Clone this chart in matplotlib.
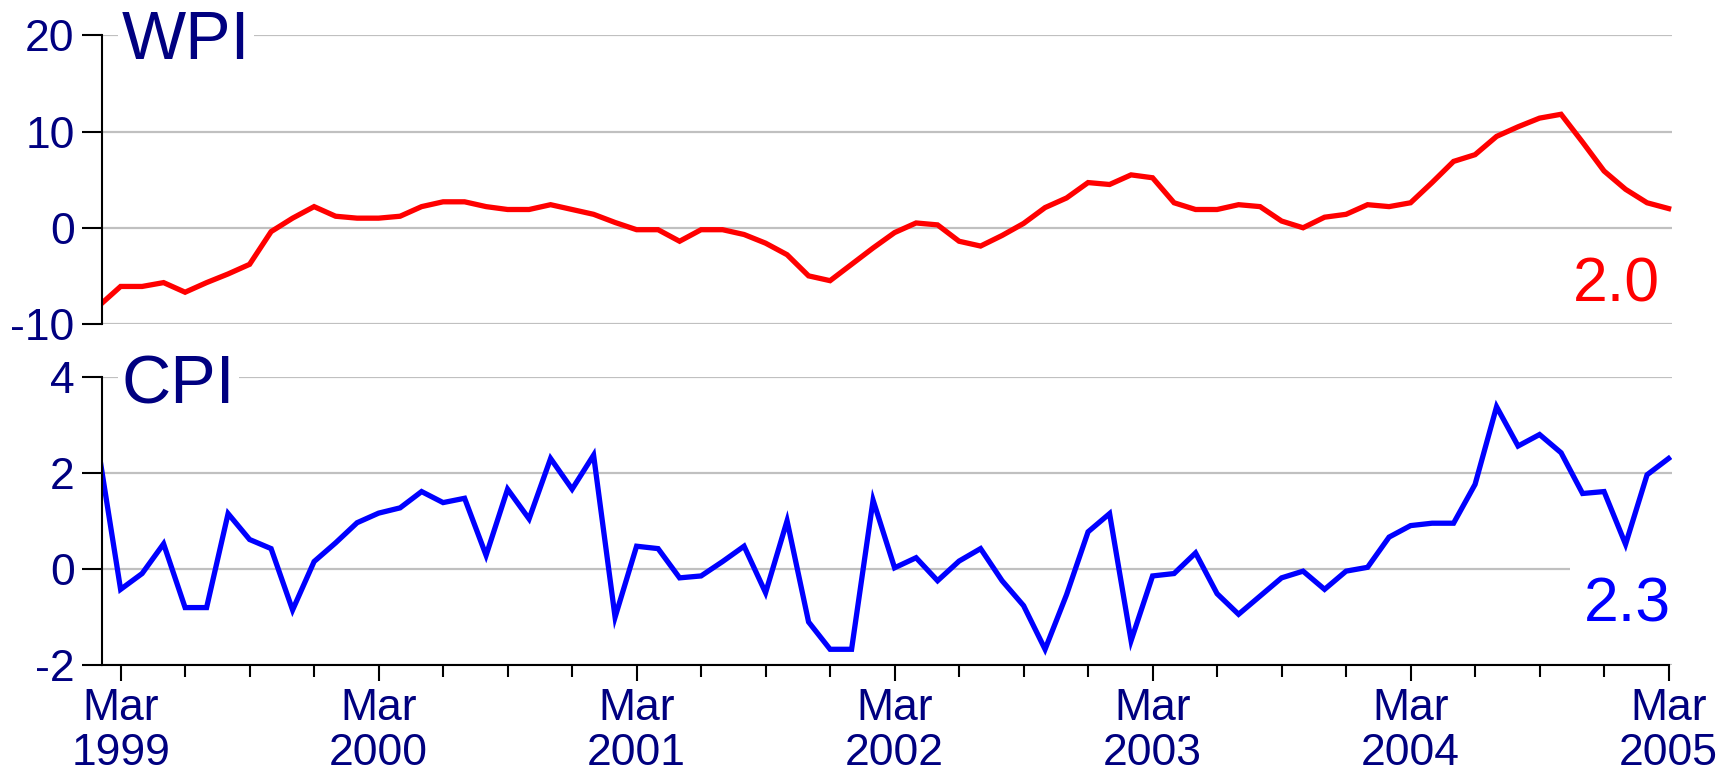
import matplotlib
matplotlib.use('Agg')
import matplotlib.pyplot as plt
import numpy as np
import pandas as pd

plt.rcParams['font.family'] = ['Liberation Sans', 'DejaVu Sans']
plt.rcParams['axes.unicode_minus'] = False

# monthly observations, Feb 1999 .. Mar 2005
months = pd.period_range('1999-02', '2005-03', freq='M')

wpi = [-8.1, -6.1, -6.1, -5.7, -6.7, -5.7, -4.8, -3.8, -0.4, 1.0, 2.2,
       1.2, 1.0, 1.0, 1.2, 2.2, 2.7, 2.7, 2.2, 1.9, 1.9, 2.4, 1.9,
       1.4, 0.55, -0.2, -0.2, -1.4, -0.2, -0.2, -0.7, -1.6, -2.8, -5.0, -5.5,
       -3.8, -2.1, -0.5, 0.5, 0.3, -1.4, -1.9, -0.8, 0.45, 2.1, 3.1, 4.7,
       4.5, 5.5, 5.2, 2.6, 1.9, 1.9, 2.4, 2.2, 0.7, 0.0, 1.1, 1.4,
       2.4, 2.2, 2.6, 4.7, 6.9, 7.6, 9.5, 10.5, 11.4, 11.8, 8.9, 5.9,
       4.0, 2.6, 2.0]

cpi = [2.4, -0.43, -0.1, 0.52, -0.81, -0.81, 1.15, 0.61, 0.42, -0.86, 0.15,
       0.54, 0.96, 1.16, 1.27, 1.61, 1.38, 1.47, 0.28, 1.66, 1.04, 2.30, 1.66,
       2.37, -1.01, 0.47, 0.42, -0.19, -0.15, 0.15, 0.47, -0.50, 1.0, -1.11, -1.68,
       -1.68, 1.43, 0.02, 0.23, -0.25, 0.16, 0.42, -0.25, -0.77, -1.68, -0.54, 0.77,
       1.15, -1.50, -0.15, -0.10, 0.33, -0.52, -0.95, -0.57, -0.19, -0.05, -0.43, -0.05,
       0.03, 0.66, 0.90, 0.95, 0.95, 1.76, 3.38, 2.56, 2.80, 2.42, 1.57, 1.61,
       0.51, 1.96, 2.3]

navy = '#000080'
grid_c = '#c0c0c0'
x = np.arange(len(months))
x_left, x_right = 0.125, len(months) - 1 + 0.14

fig = plt.figure(figsize=(17.34, 7.73), dpi=100)
ax1 = fig.add_axes([0.0587, 0.5809, 0.9053, 0.3733])
ax2 = fig.add_axes([0.0587, 0.1402, 0.9053, 0.3721])

ax1.plot(x, wpi, color='#ff0000', lw=3.8, solid_joinstyle='miter')
ax2.plot(x, cpi, color='#0000ff', lw=3.8, solid_joinstyle='miter')

ax1.set_ylim(-10, 20)
ax1.set_yticks([-10, 0, 10, 20])
ax2.set_ylim(-2, 4)
ax2.set_yticks([-2, 0, 2, 4])

major = [i for i, m in enumerate(months) if m.month == 3]
minor = [i for i, m in enumerate(months) if m.month in (6, 9, 12)]
ax2.set_xticks(major, [f"Mar\n{months[i].year}" for i in major])
ax2.set_xticks(minor, minor=True)

for ax in (ax1, ax2):
    ax.set_xlim(x_left, x_right)
    ax.yaxis.grid(True, color=grid_c, lw=1.6)
    ax.set_axisbelow(True)
    ax.spines['top'].set_visible(False)
    ax.spines['right'].set_visible(False)
    ax.spines['left'].set_linewidth(1.5)
    ax.tick_params(axis='y', length=14.5, width=1.5, colors='black',
                   labelcolor=navy, labelsize=32, pad=5)

ax1.spines['bottom'].set_visible(False)
ax1.tick_params(axis='x', bottom=False, labelbottom=False)

ax2.spines['bottom'].set_linewidth(1.5)
ax2.spines['bottom'].set_bounds(x_left, len(months) - 1)
ax2.tick_params(axis='x', which='major', length=11.5, width=1.5,
                labelcolor=navy, labelsize=32, pad=5)
ax2.tick_params(axis='x', which='minor', length=8.5, width=1.5)
for lab in ax2.get_xticklabels():
    lab.set_linespacing(1.15)

box = dict(fc='white', ec='none', pad=3)
ax1.text(1.05, 17.5, 'WPI', fontsize=49, color=navy, va='baseline', ha='left',
         bbox=box)
ax2.text(1.05, 3.44, 'CPI', fontsize=49, color=navy, va='baseline', ha='left',
         bbox=box)

ax1.text(len(months) - 1.4, -7.7, f"{wpi[-1]:.1f}", fontsize=45, color='#ff0000',
         va='baseline', ha='right')
ax2.text(len(months) - 0.9, -1.09, f"{cpi[-1]:.1f}", fontsize=45, color='#0000ff',
         va='baseline', ha='right', bbox=dict(fc='white', ec='none', pad=10))

fig.savefig('out.png', dpi=100)
